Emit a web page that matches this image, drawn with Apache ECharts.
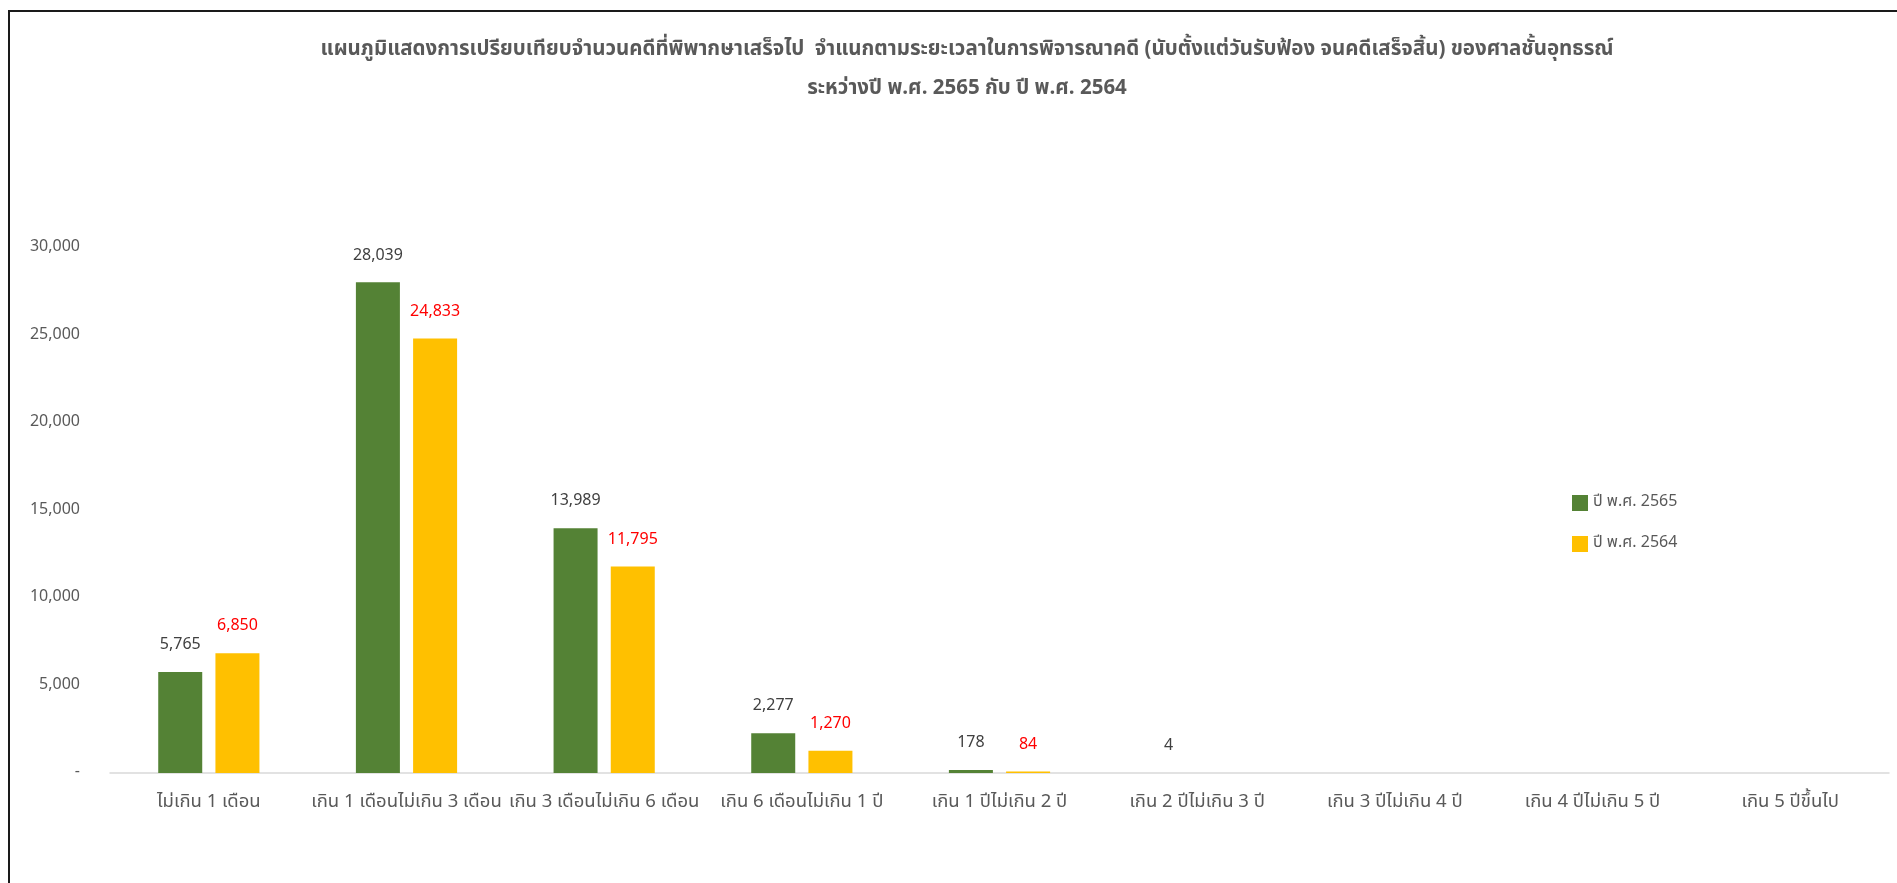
<!DOCTYPE html>
<html>
<head>
<meta charset="utf-8">
<script src="https://cdn.jsdelivr.net/npm/echarts@6/dist/echarts.min.js"></script>
<style>
html,body{margin:0;padding:0;background:#fff;}
#chart{width:1897px;height:883px;}
</style>
</head>
<body>
<div id="chart"></div>
<script>
const titleLine1 = 'แผนภูมิแสดงการเปรียบเทียบจำนวนคดีที่พิพากษาเสร็จไป  จำแนกตามระยะเวลาในการพิจารณาคดี (นับตั้งแต่วันรับฟ้อง จนคดีเสร็จสิ้น) ของศาลชั้นอุทธรณ์';
const titleLine2 = 'ระหว่างปี พ.ศ. 2565 กับ ปี พ.ศ. 2564';
const categories = ['ไม่เกิน 1 เดือน','เกิน 1 เดือนไม่เกิน 3 เดือน','เกิน 3 เดือนไม่เกิน 6 เดือน','เกิน 6 เดือนไม่เกิน 1 ปี','เกิน 1 ปีไม่เกิน 2 ปี','เกิน 2 ปีไม่เกิน 3 ปี','เกิน 3 ปีไม่เกิน 4 ปี','เกิน 4 ปีไม่เกิน 5 ปี','เกิน 5 ปีขึ้นไป'];
const seriesNames = ['ปี พ.ศ. 2565','ปี พ.ศ. 2564'];
const values2565 = [5765, 28039, 13989, 2277, 178, 4, null, null, null];
const values2564 = [6850, 24833, 11795, 1270, 84, null, null, null, null];
const yTicks = [0, 5000, 10000, 15000, 20000, 25000, 30000];

const FONT = 'Tahoma, "Noto Sans Thai", "Noto Sans", sans-serif';
const fmt = v => v === 0 ? '-' : v.toLocaleString('en-US');

const chart = echarts.init(document.getElementById('chart'));
chart.setOption({
  backgroundColor: '#ffffff',
  animation: false,
  textStyle: { fontFamily: FONT },
  title: {
    text: titleLine1 + '\n' + titleLine2,
    left: 962, top: 26, textAlign: 'center',
    textStyle: { fontFamily: FONT, fontSize: 20.5, fontWeight: 'bold', color: '#595959', lineHeight: 39 }
  },
  legend: {
    orient: 'vertical', left: 1567, top: 490,
    itemWidth: 16, itemHeight: 16, itemGap: 25,
    icon: 'rect',
    textStyle: { fontFamily: FONT, fontSize: 16, color: '#595959' },
    data: seriesNames
  },
  graphic: [
    { type: 'line', shape: { x1: 8, y1: 11, x2: 1897, y2: 11 }, style: { stroke: '#1a1a1a', lineWidth: 2 } },
    { type: 'line', shape: { x1: 9, y1: 11, x2: 9, y2: 883 }, style: { stroke: '#1a1a1a', lineWidth: 2 } }
  ],
  grid: { left: 110, right: 8, top: 248, bottom: 110, containLabel: false },
  xAxis: {
    type: 'category', data: categories,
    axisLine: { lineStyle: { color: '#d9d9d9', width: 1.5 } },
    axisTick: { show: false },
    axisLabel: { color: '#595959', fontSize: 18.5, fontFamily: FONT, margin: 21, interval: 0 }
  },
  yAxis: {
    type: 'value', min: yTicks[0], max: yTicks[yTicks.length-1], interval: 5000,
    axisLine: { show: false }, axisTick: { show: false }, splitLine: { show: false },
    axisLabel: { color: '#595959', fontSize: 16, fontFamily: FONT, margin: 30, formatter: fmt }
  },
  series: [
    {
      name: seriesNames[0], type: 'bar', data: values2565, barWidth: 44, barGap: '30%',
      itemStyle: { color: '#548235' },
      label: { show: true, position: 'top', distance: 18, color: '#404040', fontSize: 16, fontFamily: FONT, formatter: p => fmt(p.value) }
    },
    {
      name: seriesNames[1], type: 'bar', data: values2564, barWidth: 44,
      itemStyle: { color: '#ffc000' },
      label: { show: true, position: 'top', distance: 18, color: '#ff0000', fontSize: 16, fontFamily: FONT, formatter: p => fmt(p.value) }
    }
  ]
});
</script>
</body>
</html>
